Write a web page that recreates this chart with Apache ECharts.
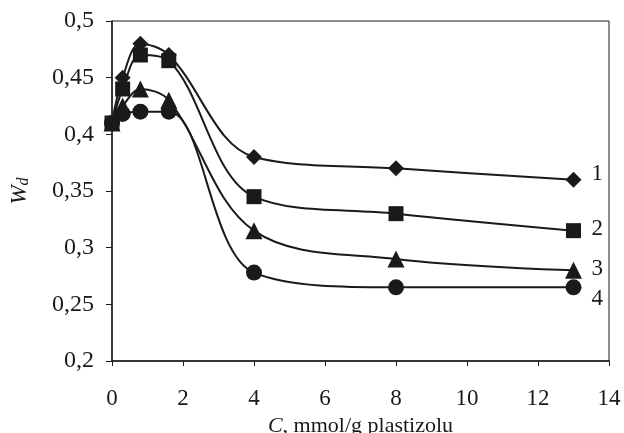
<!DOCTYPE html>
<html>
<head>
<meta charset="utf-8">
<script src="https://cdn.jsdelivr.net/npm/echarts@6/dist/echarts.min.js"></script>
<style>
  html, body { margin: 0; padding: 0; background: #fff; }
  #chart { width: 624px; height: 433px; }
</style>
</head>
<body>
<div id="chart"></div>
<script>
// concentration C, mmol/g plastizolu
var xs = [0, 0.3, 0.8, 1.6, 4, 8, 13];
var w1 = [0.41, 0.45, 0.48, 0.47, 0.38, 0.37, 0.36];
var w2 = [0.41, 0.44, 0.47, 0.465, 0.345, 0.33, 0.315];
var w3 = [0.41, 0.425, 0.44, 0.43, 0.315, 0.29, 0.28];
var w4 = [0.41, 0.418, 0.42, 0.42, 0.278, 0.265, 0.265];
var curveNames = ["1", "2", "3", "4"];
var symbols = ["diamond", "rect", "triangle", "circle"];
var symbolSizes = [16, 15, 17, 16];
var labelOffsets = [[10, -6], [10, -2], [10, -1], [10, 12]];

var FONT = "'Liberation Serif', 'Times New Roman', Times, serif";
var INK = "#1a1a1a";

function pairs(ys) {
  var out = [];
  for (var i = 0; i < xs.length; i++) out.push([xs[i], ys[i]]);
  return out;
}

var allY = [w1, w2, w3, w4];
var series = allY.map(function (ys, k) {
  return {
    name: curveNames[k],
    type: "line",
    smooth: 0.35,
    data: pairs(ys),
    symbol: symbols[k],
    symbolSize: symbolSizes[k],
    itemStyle: { color: INK },
    lineStyle: { color: INK, width: 2 },
    endLabel: {
      show: true,
      formatter: curveNames[k],
      fontFamily: FONT,
      fontSize: 23,
      color: INK,
      offset: labelOffsets[k]
    },
    z: 5 - k
  };
});

var chart = echarts.init(document.getElementById("chart"));
chart.setOption({
  backgroundColor: "#fff",
  animation: false,
  grid: {
    left: 112, right: 15, top: 21, bottom: 72,
    outerBoundsMode: "none",
    containLabel: false,
    show: true, borderColor: INK, borderWidth: 1
  },
  xAxis: {
    type: "value",
    min: 0, max: 14, interval: 2,
    name: "{i|C}, mmol/g plastizolu",
    nameLocation: "middle",
    nameGap: 53,
    nameTextStyle: {
      fontFamily: FONT, fontSize: 22, color: INK,
      rich: { i: { fontFamily: FONT, fontSize: 22, fontStyle: "italic", color: INK } }
    },
    axisLine: { show: true, onZero: false, lineStyle: { color: INK, width: 1.5 } },
    axisTick: { show: true, inside: false, length: 5, lineStyle: { color: INK } },
    axisLabel: { fontFamily: FONT, fontSize: 23, color: INK, margin: 26 },
    splitLine: { show: false }
  },
  yAxis: {
    type: "value",
    min: 0.2, max: 0.5, interval: 0.05,
    name: "{i|W}{s|d}",
    nameLocation: "middle",
    nameGap: 80,
    nameRotate: 90,
    nameTextStyle: {
      rich: {
        i: { fontFamily: FONT, fontSize: 23, fontStyle: "italic", color: INK },
        s: { fontFamily: FONT, fontSize: 16, fontStyle: "italic", color: INK, verticalAlign: "bottom", padding: [8, 0, 0, 0] }
      }
    },
    axisLine: { show: true, lineStyle: { color: INK, width: 1.5 } },
    axisTick: { show: true, inside: false, length: 6, lineStyle: { color: INK } },
    axisLabel: {
      fontFamily: FONT, fontSize: 24, color: INK, margin: 18,
      formatter: function (v) { return String(+v.toFixed(2)).replace(".", ","); }
    },
    splitLine: { show: false }
  },
  series: series
});
</script>
</body>
</html>
